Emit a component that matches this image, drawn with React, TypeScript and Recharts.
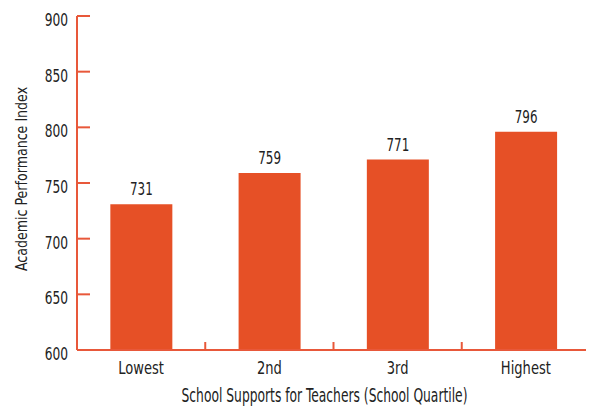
import { Bar, BarChart, LabelList, XAxis, YAxis, Label } from "recharts";

const categories = ["Lowest", "2nd", "3rd", "Highest"];
const scores = [731, 759, 771, 796];
const yTicks = [600, 650, 700, 750, 800, 850, 900];

const data = categories.map((name, i) => ({ name, score: scores[i] }));

const W = 586;
const H = 401;
const Y_AXIS_W = 69;
const MARGIN = { top: 8, right: 4, bottom: 0, left: 0 };
const X_AXIS_H = 59;
const PLOT_BOTTOM = H - MARGIN.bottom - X_AXIS_H;
const BAND = (W - Y_AXIS_W - MARGIN.left - MARGIN.right) / categories.length;

const ORANGE = "#E65026";
const AXIS = "#E8583A";
const TEXT = "#222222";
const FONT = "'DejaVu Sans Condensed', 'DejaVu Sans', sans-serif";

// the reference uses a condensed face, so squeeze DejaVu horizontally
function NarrowText({ x, y, size, squeeze, anchor = "middle", rotate = 0, children }: any) {
  return (
    <g transform={`translate(${x} ${y}) rotate(${rotate}) scale(${squeeze} 1)`}>
      <text x={0} y={0} textAnchor={anchor} fill={TEXT} fontSize={size} fontFamily={FONT}>
        {children}
      </text>
    </g>
  );
}

function YTick(props: any) {
  const { x, y, payload } = props;
  const axisX = x + 9;
  return (
    <g>
      <line x1={axisX} x2={axisX + 13} y1={y} y2={y} stroke={AXIS} strokeWidth={2} />
      <NarrowText x={x} y={y + 10} size={18.4} squeeze={0.74} anchor="end">
        {payload.value}
      </NarrowText>
    </g>
  );
}

function XTick(props: any) {
  const { x, payload } = props;
  const edge = x + BAND / 2;
  return (
    <g>
      <line x1={edge} x2={edge} y1={PLOT_BOTTOM} y2={PLOT_BOTTOM - 8} stroke={AXIS} strokeWidth={2} />
      <NarrowText x={x} y={PLOT_BOTTOM + 24} size={17.5} squeeze={0.83}>
        {payload.value}
      </NarrowText>
    </g>
  );
}

function ValueLabel(props: any) {
  const { x, y, width, value } = props;
  return (
    <NarrowText x={x + width / 2} y={y - 9} size={18.4} squeeze={0.72}>
      {value}
    </NarrowText>
  );
}

export default function App() {
  return (
    <BarChart width={W} height={H} data={data} margin={MARGIN} barCategoryGap="26%">
      <XAxis
        dataKey="name"
        height={X_AXIS_H}
        stroke={AXIS}
        strokeWidth={2}
        tickLine={false}
        tick={<XTick />}
      >
        <Label
          content={() => (
            <NarrowText x={316.5} y={394} size={19} squeeze={0.72}>
              School Supports for Teachers (School Quartile)
            </NarrowText>
          )}
        />
      </XAxis>
      <YAxis
        width={Y_AXIS_W}
        domain={[600, 900]}
        ticks={yTicks}
        stroke={AXIS}
        strokeWidth={2}
        tickLine={false}
        tickSize={0}
        tickMargin={9}
        tick={<YTick />}
        interval={0}
        allowDataOverflow
      >
        <Label
          content={() => (
            <NarrowText x={18.7} y={171} size={15.6} squeeze={0.9} rotate={-90}>
              Academic Performance Index
            </NarrowText>
          )}
        />
      </YAxis>
      <Bar dataKey="score" fill={ORANGE} isAnimationActive={false}>
        <LabelList dataKey="score" content={<ValueLabel />} />
      </Bar>
    </BarChart>
  );
}
